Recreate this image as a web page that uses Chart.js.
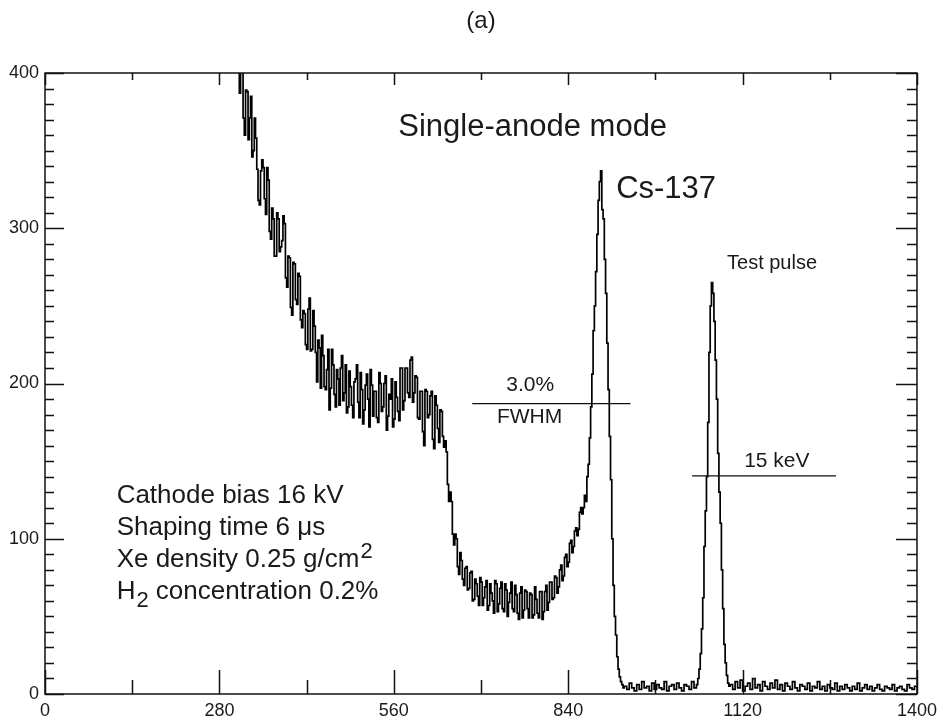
<!DOCTYPE html>
<html>
<head>
<meta charset="utf-8">
<script src="https://cdn.jsdelivr.net/npm/chart.js@4.4.1/dist/chart.umd.min.js"></script>
<style>
  html, body { margin: 0; padding: 0; background: #fff; }
  canvas { display: block; }
</style>
</head>
<body>
<canvas id="spectrum" width="943" height="724"></canvas>
<script>
// tick labels
const xTicks = [0, 280, 560, 840, 1120, 1400];
const yTicks = [0, 100, 200, 300, 400];

// continuum + Compton shoulder + valley, 2-channel bins from ch 300
const contStart = 300, contStep = 2;
const contCounts = [
  459, 427, 423, 443, 442, 408, 387, 413, 401, 371,
  360, 389, 388, 357, 371, 385, 346, 350, 371, 358,
  338, 318, 315, 337, 344, 339, 319, 309, 339, 331,
  298, 293, 313, 306, 282, 282, 310, 306, 285, 288,
  292, 308, 303, 268, 262, 282, 281, 249, 244, 278,
  277, 254, 251, 271, 269, 241, 236, 247, 245, 225,
  222, 248, 255, 221, 222, 247, 237, 220, 201, 228,
  223, 197, 231, 218, 198, 196, 209, 222, 183, 197,
  222, 212, 193, 185, 209, 203, 186, 210, 218, 189,
  194, 212, 181, 185, 208, 198, 186, 178, 201, 203,
  212, 188, 178, 207, 196, 174, 183, 199, 206, 190,
  172, 209, 199, 179, 195, 195, 178, 175, 207, 200,
  182, 185, 200, 205, 170, 179, 193, 190, 203, 172,
  177, 201, 191, 182, 176, 210, 210, 183, 189, 210,
  210, 194, 191, 215, 217, 188, 194, 205, 204, 178,
  177, 195, 195, 169, 160, 196, 195, 178, 180, 192,
  195, 164, 158, 192, 186, 171, 162, 183, 182, 166,
  159, 163, 156, 135, 124, 130, 124, 103, 96, 103,
  100, 82, 77, 91, 86, 74, 70, 81, 82, 67,
  68, 78, 79, 60, 61, 74, 71, 63, 57, 75,
  72, 57, 62, 69, 73, 54, 57, 71, 65, 60,
  52, 73, 71, 53, 58, 68, 72, 55, 53, 71,
  67, 50, 59, 65, 72, 55, 53, 70, 64, 52,
  48, 65, 69, 49, 54, 67, 66, 55, 49, 65,
  64, 49, 51, 69, 61, 52, 49, 66, 66, 48,
  53, 66, 70, 54, 59, 72, 72, 61, 62, 76,
  75, 65, 69, 80, 83, 73, 76, 88, 90, 82,
  85, 97, 99, 91, 95, 105, 107, 102, 106, 117,
  120, 116, 120
];

// Cs-137 photopeak, 2-channel bins
const csStart = 866, csStep = 2;
const csCounts = [
  128, 124, 140, 148, 165, 185, 206, 234, 250, 272,
  296, 318, 330, 337, 312, 306, 280, 258, 226, 196,
  166, 138, 100, 70, 50, 38, 24, 16, 11, 8,
  6, 4
];

// between the peaks
const gapStart = 930, gapStep = 4;
const gapCounts = [
  5, 3, 7, 4, 2, 6, 3, 8, 4, 5,
  2, 7, 3, 6, 4, 3, 8, 2, 5, 6,
  3, 7, 4, 2, 6, 5, 3, 8, 4
];

// test pulse, 2-channel bins
const tpStart = 1044, tpStep = 2;
const tpCounts = [
  4, 6, 10, 16, 26, 42, 62, 95, 118, 140,
  175, 220, 250, 265, 258, 240, 215, 190, 155, 130,
  110, 80, 55, 32, 20, 12, 7, 5
];

// high-channel tail
const tailStart = 1100, tailStep = 4;
const tailCounts = [
  6, 3, 8, 4, 9, 2, 5, 7, 3, 10,
  4, 6, 2, 8, 5, 3, 7, 4, 9, 3,
  6, 2, 7, 5, 3, 8, 4, 2, 6, 5,
  3, 7, 2, 5, 4, 8, 3, 5, 2, 6,
  4, 3, 7, 2, 5, 3, 6, 4, 2, 5,
  3, 7, 2, 4, 6, 3, 5, 2, 4, 6,
  3, 2, 5, 4, 3, 6, 2, 4, 5, 3,
  2, 6, 4, 3, 5, 4
];

const seg = (start, step, arr) => arr.map((v, i) => ({ x: start + i * step, y: v }));
const points = [].concat(
  seg(contStart, contStep, contCounts),
  seg(csStart, csStep, csCounts),
  seg(gapStart, gapStep, gapCounts),
  seg(tpStart, tpStep, tpCounts),
  seg(tailStart, tailStep, tailCounts)
);

const FONT = "'Liberation Sans', Arial, Helvetica, sans-serif";
const INK = '#1a1a1a';

// frame with inward ticks on all four sides
const framePlugin = {
  id: 'frame',
  afterDatasetsDraw(chart) {
    const { ctx, chartArea: a, scales: { x, y } } = chart;
    ctx.save();
    ctx.strokeStyle = '#111';
    ctx.lineWidth = 1.5;
    ctx.strokeRect(a.left, a.top, a.right - a.left, a.bottom - a.top);
    ctx.beginPath();
    const xMinor = (xTicks[1] - xTicks[0]) / 2;
    for (let v = xTicks[0]; v <= xTicks[xTicks.length - 1]; v += xMinor) {
      const px = Math.round(x.getPixelForValue(v)) + 0.5;
      const major = xTicks.includes(v);
      ctx.moveTo(px, a.bottom);
      ctx.lineTo(px, a.bottom - (major ? 24 : 14));
      ctx.moveTo(px, a.top);
      ctx.lineTo(px, a.top + (major ? 12 : 7));
    }
    const yMinor = (yTicks[1] - yTicks[0]) / 10;
    for (let v = yTicks[0]; v <= yTicks[yTicks.length - 1]; v += yMinor) {
      const py = Math.round(y.getPixelForValue(v)) + 0.5;
      const major = yTicks.includes(v);
      ctx.moveTo(a.left, py);
      ctx.lineTo(a.left + (major ? 19 : 9), py);
      ctx.moveTo(a.right, py);
      ctx.lineTo(a.right - (major ? 21 : 10), py);
    }
    ctx.stroke();
    ctx.restore();
  }
};

// labels, FWHM bars, run conditions
const notesPlugin = {
  id: 'notes',
  afterDraw(chart) {
    const { ctx, chartArea: a, scales: { x, y } } = chart;
    const px = v => x.getPixelForValue(v);
    const py = v => y.getPixelForValue(v);
    ctx.save();
    ctx.fillStyle = INK;
    ctx.strokeStyle = '#111';
    ctx.lineWidth = 1.3;

    // title
    ctx.font = `24px ${FONT}`;
    ctx.textAlign = 'center';
    ctx.textBaseline = 'middle';
    ctx.fillText('(a)', (a.left + a.right) / 2, 21);

    ctx.font = `31px ${FONT}`;
    ctx.fillText('Single-anode mode', px(783), py(365));

    ctx.textAlign = 'left';
    ctx.font = `31px ${FONT}`;
    ctx.fillText('Cs-137', px(917), py(325));
    ctx.font = `20px ${FONT}`;
    ctx.fillText('Test pulse', px(1095), py(277));

    // resolution bars
    ctx.beginPath();
    ctx.moveTo(px(686), py(187)); ctx.lineTo(px(940), py(187));
    ctx.moveTo(px(1039), py(140.5)); ctx.lineTo(px(1270), py(140.5));
    ctx.stroke();
    ctx.textAlign = 'center';
    ctx.font = `21px ${FONT}`;
    ctx.fillText('3.0%', px(779), py(199));
    ctx.fillText('FWHM', px(778), py(178));
    ctx.fillText('15 keV', px(1175), py(150));

    // run conditions
    ctx.textAlign = 'left';
    ctx.textBaseline = 'alphabetic';
    const lx = px(115);
    ctx.font = `26px ${FONT}`;
    ctx.fillText('Cathode bias 16 kV', lx, py(123));
    ctx.fillText('Shaping time 6 \u03bcs', lx, py(102.4));
    const t = 'Xe density 0.25 g/cm';
    ctx.fillText(t, lx, py(81.8));
    let w = ctx.measureText(t).width;
    ctx.font = `22px ${FONT}`;
    ctx.fillText('2', lx + w + 1, py(81.8) - 9);
    ctx.font = `26px ${FONT}`;
    ctx.fillText('H', lx, py(61.2));
    w = ctx.measureText('H').width;
    ctx.font = `22px ${FONT}`;
    ctx.fillText('2', lx + w + 1, py(61.2) + 8);
    const w2 = ctx.measureText('2').width;
    ctx.font = `26px ${FONT}`;
    ctx.fillText(' concentration 0.2%', lx + w + w2 + 1, py(61.2));
    ctx.restore();
  }
};

const ctx = document.getElementById('spectrum').getContext('2d');
const chart = new Chart(ctx, {
  type: 'line',
  data: {
    datasets: [{
      data: points,
      stepped: true,
      borderColor: '#000',
      borderWidth: 1.7,
      pointRadius: 0,
      fill: false
    }]
  },
  options: {
    responsive: false,
    animation: false,
    layout: { padding: { left: 0, right: 25, top: 73, bottom: 0 } },
    plugins: {
      legend: { display: false },
      tooltip: { enabled: false }
    },
    scales: {
      x: {
        type: 'linear',
        min: xTicks[0],
        max: xTicks[xTicks.length - 1],
        afterBuildTicks: s => { s.ticks = xTicks.map(v => ({ value: v })); },
        afterFit: s => { s.height = 30; },
        grid: { display: false, drawTicks: false },
        border: { display: false },
        ticks: {
          padding: 6,
          maxRotation: 0,
          autoSkip: false,
          color: INK,
          font: { family: FONT, size: 18 },
          callback: v => String(v)
        }
      },
      y: {
        min: yTicks[0],
        max: yTicks[yTicks.length - 1],
        afterBuildTicks: s => { s.ticks = yTicks.map(v => ({ value: v })); },
        afterFit: s => { s.width = 45; },
        grid: { display: false, drawTicks: false },
        border: { display: false },
        ticks: {
          padding: 6,
          color: INK,
          font: { family: FONT, size: 18 },
          callback: v => String(v)
        }
      }
    }
  },
  plugins: [framePlugin, notesPlugin]
});
</script>
</body>
</html>
